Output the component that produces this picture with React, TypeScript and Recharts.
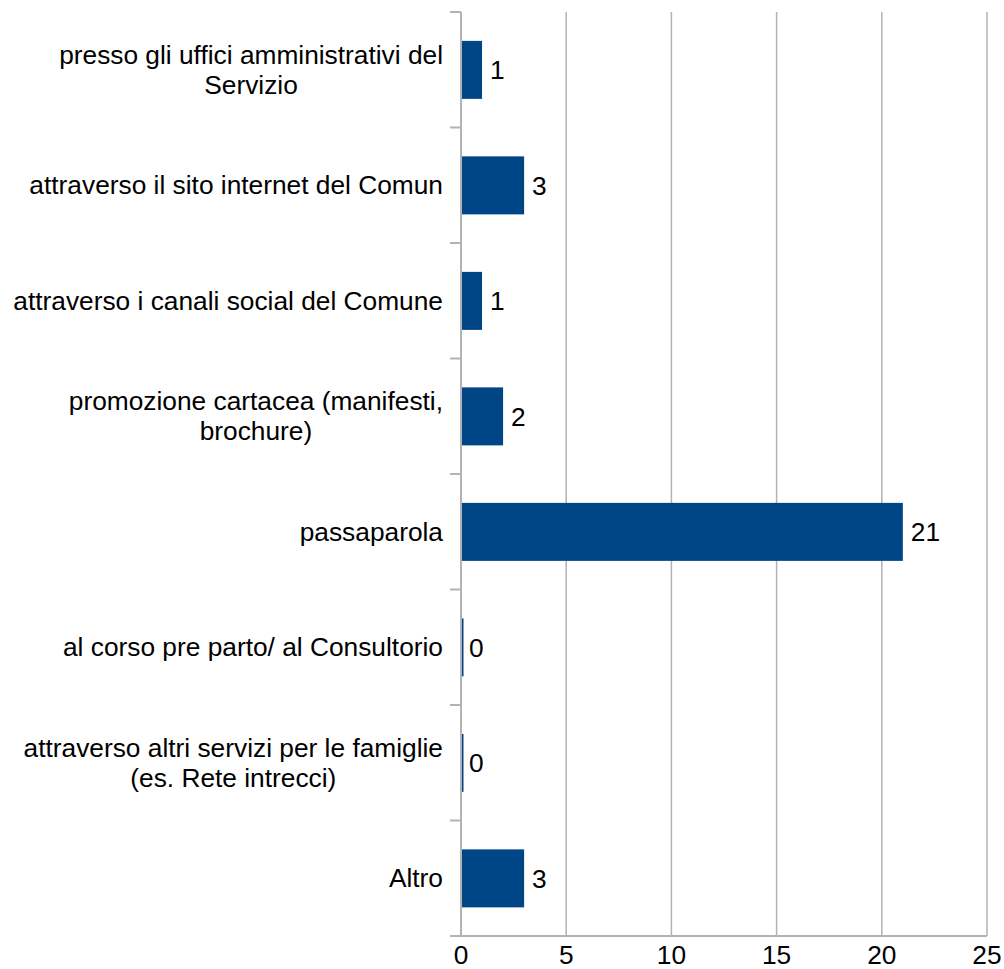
import React from 'react';
import { BarChart, Bar, XAxis, YAxis, CartesianGrid, LabelList } from 'recharts';

const categories = [
  'presso gli uffici amministrativi del\nServizio',
  'attraverso il sito internet del Comun',
  'attraverso i canali social del Comune',
  'promozione cartacea (manifesti,\nbrochure)',
  'passaparola',
  'al corso pre parto/ al Consultorio',
  'attraverso altri servizi per le famiglie\n(es. Rete intrecci)',
  'Altro',
];
const counts = [1, 3, 1, 2, 21, 0, 0, 3];
const xTicks = [0, 5, 10, 15, 20, 25];

const data = categories.map((name, i) => ({ name, value: counts[i] }));

const W = 1004;
const H = 969;
const MARGIN = { top: 12, right: 17, left: 0, bottom: 0 };
const Y_AXIS_W = 461;
const X_AXIS_H = 33;
const BAND = (H - MARGIN.top - MARGIN.bottom - X_AXIS_H) / categories.length;
const FONT = '"Liberation Sans", Arial, sans-serif';
const FS = 26.3;
const GRID = '#b3b3b3';

let ctx: CanvasRenderingContext2D | null = null;
function textWidth(s: string) {
  if (!ctx) ctx = document.createElement('canvas').getContext('2d');
  if (!ctx) return s.length * 12;
  ctx.font = `${FS}px "Liberation Sans"`;
  return ctx.measureText(s).width;
}

function CategoryTick(props: any) {
  const { y, payload, index } = props;
  const axisX = MARGIN.left + Y_AXIS_W;
  const lines: string[] = String(payload.value).split('\n');
  const right = axisX - 18;
  const widths = lines.map(textWidth);
  const maxW = Math.max(...widths);
  const cx = right - maxW / 2;
  const lineH = 30;
  const top = y - BAND / 2;
  return (
    <g>
      <line x1={axisX - 11} x2={axisX} y1={top} y2={top} stroke={GRID} strokeWidth={2} />
      {index === categories.length - 1 && (
        <line x1={axisX - 11} x2={axisX} y1={top + BAND} y2={top + BAND} stroke={GRID} strokeWidth={2} />
      )}
      {lines.map((ln, i) => (
        <text
          key={i}
          x={lines.length > 1 ? cx : right}
          y={y + (i - (lines.length - 1) / 2) * lineH}
          dy="0.35em"
          textAnchor={lines.length > 1 ? 'middle' : 'end'}
          fontSize={FS}
          fontFamily={FONT}
          fill="#000"
        >
          {ln}
        </text>
      ))}
    </g>
  );
}

// zero values still get a hairline bar, like the original
function BarShape(props: any) {
  const { x, y, width, height, fill } = props;
  return <rect x={x} y={y} width={Math.max(width || 0, 2.5)} height={height} fill={fill} />;
}

export default function App() {
  return (
    <div style={{ position: 'absolute', left: 0, top: 0, width: W, height: H, fontFamily: FONT }}>
      <BarChart
        width={W}
        height={H}
        data={data}
        layout="vertical"
        margin={MARGIN}
        barCategoryGap="25%"
      >
        <CartesianGrid horizontal={false} stroke={GRID} strokeWidth={1.5} />
        <XAxis
          type="number"
          domain={[0, 25]}
          ticks={xTicks}
          interval={0}
          height={X_AXIS_H}
          tickLine={false}
          tickMargin={3}
          axisLine={{ stroke: GRID, strokeWidth: 2 }}
          tick={{ fontSize: FS, fill: '#000', fontFamily: FONT }}
        />
        <XAxis
          xAxisId="top"
          orientation="top"
          type="number"
          domain={[0, 25]}
          height={0}
          tick={false}
          tickLine={false}
          axisLine={{ stroke: GRID, strokeWidth: 2 }}
        />
        <YAxis
          type="category"
          dataKey="name"
          width={Y_AXIS_W}
          interval={0}
          tickLine={false}
          axisLine={{ stroke: GRID, strokeWidth: 2 }}
          tick={<CategoryTick />}
        />
        <Bar dataKey="value" fill="#004586" shape={<BarShape />} isAnimationActive={false}>
          <LabelList
            dataKey="value"
            position="right"
            offset={8}
            fill="#000"
            fontSize={FS}
            fontFamily={FONT}
          />
        </Bar>
      </BarChart>
    </div>
  );
}
